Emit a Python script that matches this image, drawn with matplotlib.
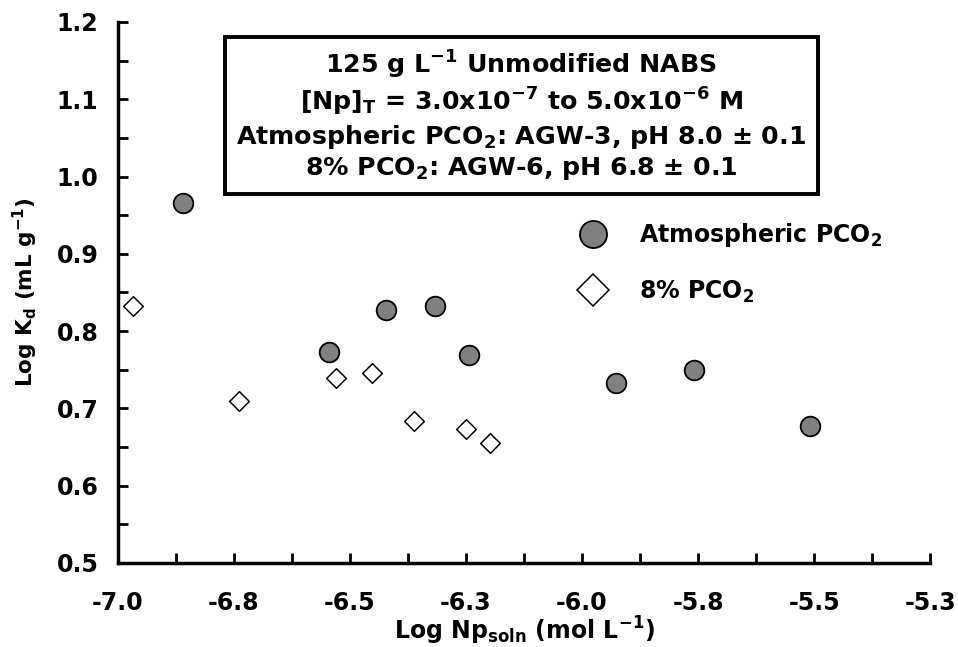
import math
import matplotlib
matplotlib.use('Agg')
import matplotlib.pyplot as plt
from matplotlib.lines import Line2D
from matplotlib.ticker import MultipleLocator, FuncFormatter

plt.rcParams['font.family'] = 'DejaVu Sans'
plt.rcParams['font.weight'] = 'bold'
plt.rcParams['axes.labelweight'] = 'bold'
plt.rcParams['mathtext.fontset'] = 'custom'
plt.rcParams['mathtext.rm'] = 'DejaVu Sans:bold'
plt.rcParams['mathtext.it'] = 'DejaVu Sans:bold'
plt.rcParams['mathtext.bf'] = 'DejaVu Sans:bold'
plt.rcParams['mathtext.default'] = 'bf'

# Atmospheric PCO2 (AGW-3)
atm_x = [-6.859, -6.545, -6.422, -6.316, -6.243, -5.927, -5.759, -5.509]
atm_y = [0.966, 0.773, 0.827, 0.832, 0.769, 0.733, 0.750, 0.677]

# 8% PCO2 (AGW-6)
co2_x = [-6.968, -6.740, -6.530, -6.453, -6.363, -6.250, -6.198]
co2_y = [0.833, 0.710, 0.739, 0.746, 0.684, 0.673, 0.655]

series_labels = [r'Atmospheric PCO$_{2}$', r'8% PCO$_{2}$']

box_lines = [
    r'125 g L$^{-1}$ Unmodified NABS',
    r'[Np]$_{T}$ = 3.0x10$^{-7}$ to 5.0x10$^{-6}$ M',
    r'Atmospheric PCO$_{2}$: AGW-3, pH 8.0 ± 0.1',
    r'8% PCO$_{2}$: AGW-6, pH 6.8 ± 0.1',
]


def one_decimal(v, pos):
    # Excel style rounding: -6.25 -> -6.3
    r = math.floor(abs(v) * 10 + 0.5 + 1e-9) / 10.0
    return '%.1f' % (-r if v < 0 else r)


fig = plt.figure(figsize=(9.58, 6.47), dpi=100)
ax = fig.add_axes([0.123, 0.130, 0.848, 0.836])

ax.scatter(atm_x, atm_y, s=200, marker='o', facecolor='#808080',
           edgecolor='black', linewidth=1.3, zorder=3)
ax.scatter(co2_x, co2_y, s=100, marker='D', facecolor='white',
           edgecolor='black', linewidth=1.1, zorder=3)

ax.set_xlim(-7.0, -5.25)
ax.set_ylim(0.5, 1.2)
ax.xaxis.set_major_locator(MultipleLocator(0.25))
ax.xaxis.set_minor_locator(MultipleLocator(0.125))
ax.yaxis.set_major_locator(MultipleLocator(0.1))
ax.yaxis.set_minor_locator(MultipleLocator(0.05))
ax.xaxis.set_major_formatter(FuncFormatter(one_decimal))
ax.yaxis.set_major_formatter(FuncFormatter(one_decimal))

for side in ['top', 'right']:
    ax.spines[side].set_visible(False)
for side in ['left', 'bottom']:
    ax.spines[side].set_linewidth(2.5)
ax.tick_params(which='both', direction='in', length=7, width=2,
               top=False, right=False)
ax.tick_params(axis='y', labelsize=17, pad=14)
ax.tick_params(axis='x', labelsize=17, pad=20)

ax.set_xlabel(r'Log Np$_{soln}$ (mol L$^{-1}$)', fontsize=17, labelpad=0)
ax.set_ylabel(r'Log K$_{d}$ (mL g$^{-1}$)', fontsize=15.5, labelpad=12)

ax.text(-6.131, 1.079, '\n'.join(box_lines), ha='center', va='center',
        fontsize=18.2, linespacing=1.22, zorder=4,
        bbox=dict(boxstyle='square,pad=0.45', facecolor='white',
                  edgecolor='black', linewidth=2.8))

handles = [
    Line2D([], [], linestyle='none', marker='o', markersize=19.5,
           markerfacecolor='#808080', markeredgecolor='black', markeredgewidth=1.3),
    Line2D([], [], linestyle='none', marker='D', markersize=16.5,
           markerfacecolor='white', markeredgecolor='black', markeredgewidth=1.1),
]
leg = fig.legend(handles, series_labels, loc='center left',
                 bbox_to_anchor=(0.5785, 0.594), frameon=False,
                 fontsize=17, labelspacing=1.25, handlelength=1.5,
                 handletextpad=1.2, borderpad=0.4)

fig.savefig('out.png', dpi=100)
